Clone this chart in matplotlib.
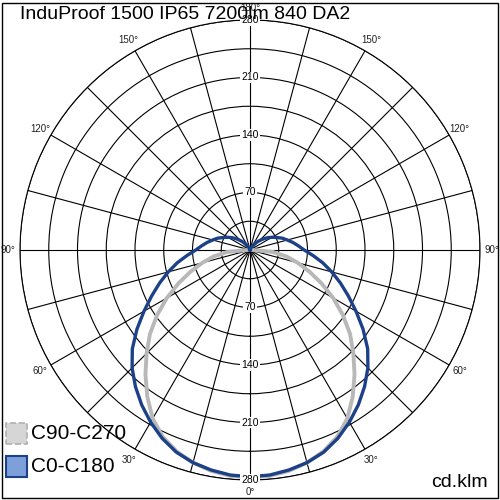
import numpy as np
import matplotlib
matplotlib.use("Agg")
import matplotlib.pyplot as plt
from matplotlib.patches import Rectangle

plt.rcParams['font.family'] = ['Liberation Sans', 'DejaVu Sans']

title = "InduProof 1500 IP65 7200lm 840 DA2"
unit = "cd.klm"

# gamma angles (deg from nadir) and intensities (cd/klm)
gamma = list(range(0, 185, 5))
c0_c180 = [276, 275, 272, 268, 262, 253, 242, 230, 217, 203, 187, 168, 149, 132,
           117, 103, 90, 77, 66, 59, 53, 47, 42, 36, 31, 26, 21, 16, 12, 8, 5, 3,
           1, 0, 0, 0, 0]
c90_c270 = [277, 276, 273, 268, 261, 251, 237, 218, 198, 178, 159, 138, 117, 96,
            77, 60, 45, 28, 4, 0, 0, 0, 0, 0, 0, 0, 0, 0, 0, 0, 0, 0, 0, 0, 0, 0, 0]

r_rings = [35, 70, 105, 140, 175, 210, 245, 280]
r_labels = [70, 140, 210, 280]
angle_labels = [0, 30, 60, 90, 120, 150, 180]

series = [("C90-C270", c90_c270, "#b8b8b8", 2.8),
          ("C0-C180", c0_c180, "#1c4189", 2.4)]

fig = plt.figure(figsize=(5, 5), dpi=100)
ax = fig.add_axes([0.04, 0.04, 0.92, 0.92], projection="polar")
ax.set_theta_zero_location("S")
ax.set_ylim(0, 280)
ax.set_rgrids(r_rings, labels=[])
ax.set_thetagrids(range(0, 360, 15), labels=[])
ax.grid(True, color="black", lw=0.8)
ax.spines["polar"].set_color("black")
ax.spines["polar"].set_linewidth(0.8)

g = np.radians(gamma)
for name, vals, col, lw in series:
    th = np.concatenate([-g[::-1], g[1:]])
    vv = np.concatenate([vals[::-1], vals[1:]])
    ax.plot(th, vv, color=col, lw=lw, zorder=3, solid_joinstyle="round")

for r in r_labels:
    for t in (0, np.pi):
        ax.text(t, r, str(r), ha="center", va="center", fontsize=7.5, zorder=4,
                bbox=dict(facecolor="white", edgecolor="none", pad=0.6))

for a in angle_labels:
    sides = [a] if a in (0, 180) else [a, -a]
    for s in sides:
        ax.text(np.radians(s), 295, "%d\u00b0" % a, ha="center", va="center",
                fontsize=7, color="#222222", clip_on=False)

fig.text(0.04, 1 - 19 / 500, title, fontsize=14, va="baseline", ha="left")
fig.text(0.975, 0.026, unit, fontsize=14, va="baseline", ha="right")

# legend
fig.patches.append(Rectangle((0.012, 0.112), 0.042, 0.042, transform=fig.transFigure,
                             facecolor="#d6d6d6", edgecolor="#b0b0b0", ls="--", lw=1.2))
fig.patches.append(Rectangle((0.012, 0.046), 0.042, 0.042, transform=fig.transFigure,
                             facecolor="#7ea0da", edgecolor="#1c4189", lw=1.5))
fig.text(0.063, 0.133, series[0][0], fontsize=15, va="center", ha="left")
fig.text(0.063, 0.067, series[1][0], fontsize=15, va="center", ha="left")

fig.patches.append(Rectangle((0.003, 0.005), 0.992, 0.99, transform=fig.transFigure,
                             facecolor="none", edgecolor="black", lw=1))

fig.savefig("out.png", dpi=100, facecolor="white")
